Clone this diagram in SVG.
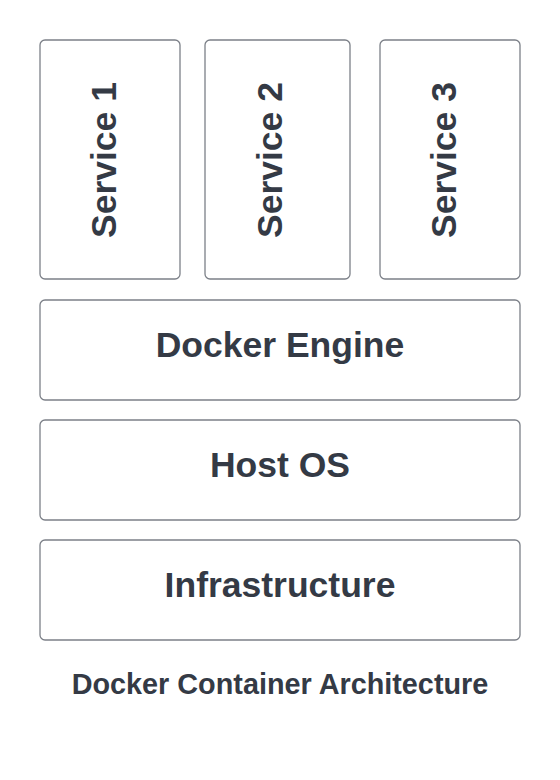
<svg xmlns="http://www.w3.org/2000/svg" width="560" height="780" viewBox="0 0 560 780">
<style>
.box{fill:#ffffff;stroke:#7c8088;stroke-width:1.3}
.lbl{font-family:"Liberation Sans",Arial,sans-serif;font-weight:bold;font-size:35.5px;fill:#343a45;text-anchor:middle}
.cap{font-family:"Liberation Sans",Arial,sans-serif;font-weight:bold;font-size:28.8px;fill:#343a45;text-anchor:middle}
</style>
<rect width="560" height="780" fill="#ffffff"/>
<g id="connectors"></g>
<g id="service1">
<rect class="box" x="40" y="40" width="140" height="239" rx="5"/>
<text class="lbl" transform="translate(116 160) rotate(-90)">Service 1</text>
</g>
<g id="service2">
<rect class="box" x="205" y="40" width="145" height="239" rx="5"/>
<text class="lbl" transform="translate(282 160) rotate(-90)">Service 2</text>
</g>
<g id="service3">
<rect class="box" x="380" y="40" width="140" height="239" rx="5"/>
<text class="lbl" transform="translate(456 160) rotate(-90)">Service 3</text>
</g>
<g id="docker-engine">
<rect class="box" x="40" y="300" width="480" height="100" rx="5"/>
<text class="lbl" x="280" y="357">Docker Engine</text>
</g>
<g id="host-os">
<rect class="box" x="40" y="420" width="480" height="100" rx="5"/>
<text class="lbl" x="280" y="477">Host OS</text>
</g>
<g id="infrastructure">
<rect class="box" x="40" y="540" width="480" height="100" rx="5"/>
<text class="lbl" x="280" y="597">Infrastructure</text>
</g>
<g id="caption">
<text class="cap" x="280" y="694">Docker Container Architecture</text>
</g>
</svg>
